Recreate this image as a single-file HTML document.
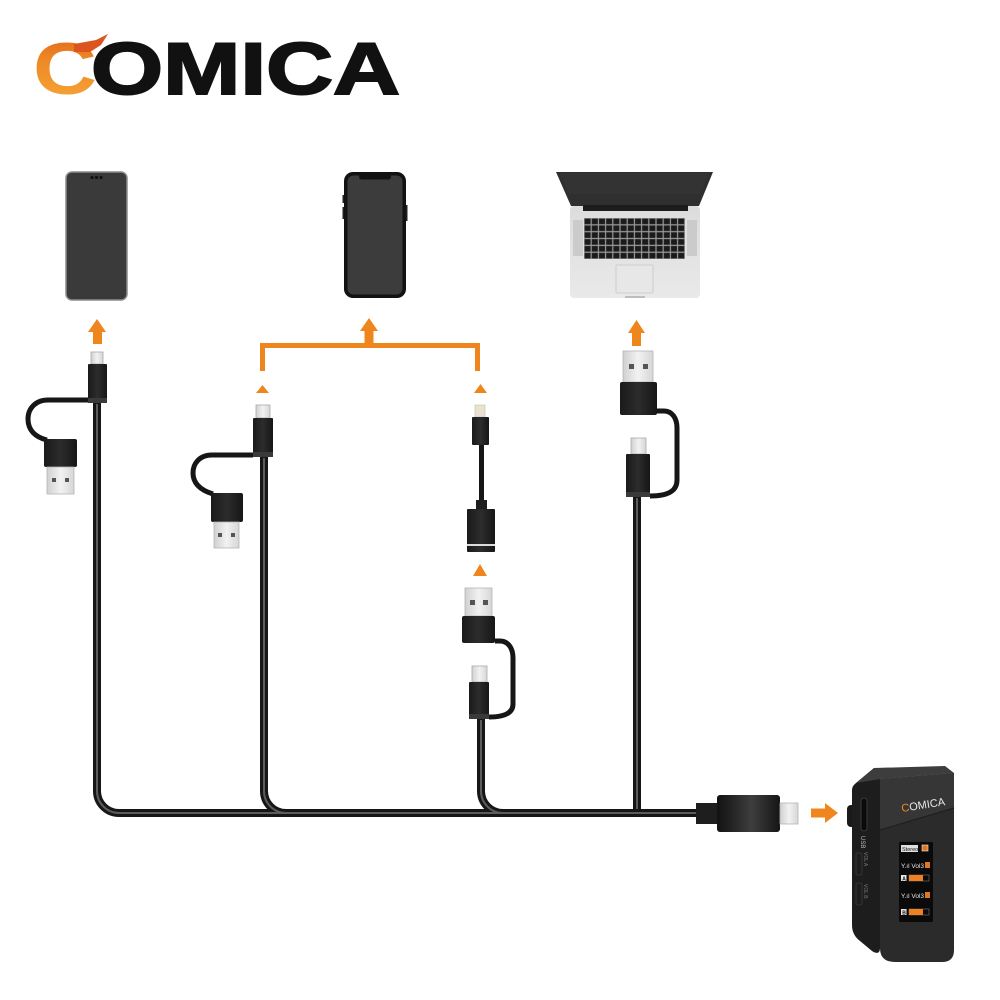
<!DOCTYPE html>
<html>
<head>
<meta charset="utf-8">
<style>
html,body{margin:0;padding:0;background:#fff;}
svg{display:block;}
</style>
</head>
<body>
<svg width="1000" height="1000" viewBox="0 0 1000 1000" xmlns="http://www.w3.org/2000/svg">
<defs>
  <linearGradient id="og" x1="0" y1="1" x2="0" y2="0">
    <stop offset="0" stop-color="#f6a93a"/>
    <stop offset="0.6" stop-color="#ee8a25"/>
    <stop offset="1" stop-color="#e0621c"/>
  </linearGradient>
  <linearGradient id="plugG" x1="0" y1="0" x2="1" y2="0">
    <stop offset="0" stop-color="#111"/>
    <stop offset="0.55" stop-color="#3e3e3e"/>
    <stop offset="1" stop-color="#151515"/>
  </linearGradient>
  <linearGradient id="housG" x1="0" y1="0" x2="1" y2="0">
    <stop offset="0" stop-color="#1a1a1a"/>
    <stop offset="0.5" stop-color="#2c2c2c"/>
    <stop offset="1" stop-color="#161616"/>
  </linearGradient>
  <linearGradient id="metalG" x1="0" y1="0" x2="1" y2="0">
    <stop offset="0" stop-color="#d0d0d0"/>
    <stop offset="0.5" stop-color="#f2f2f2"/>
    <stop offset="1" stop-color="#d6d6d6"/>
  </linearGradient>
  <linearGradient id="baseG" x1="0" y1="0" x2="0" y2="1">
    <stop offset="0" stop-color="#dcdcdc"/>
    <stop offset="1" stop-color="#e9e9e9"/>
  </linearGradient>
  <pattern id="keys" x="584" y="218" width="7.2" height="6.85" patternUnits="userSpaceOnUse">
    <rect width="7.2" height="6.85" fill="#9a9a9a"/>
    <rect x="0.6" y="0.6" width="6" height="5.6" fill="#1b1b1b"/>
  </pattern>
</defs>

<!-- LOGO -->
<text x="33" y="94" font-family="Liberation Sans, sans-serif" font-weight="bold" font-size="73" textLength="64" lengthAdjust="spacingAndGlyphs" fill="url(#og)">C</text>
<polygon points="74,44 96,40 108,34 101,45 90,52 74,52" fill="#dc5420"/>
<text x="91" y="94" font-family="Liberation Sans, sans-serif" font-weight="bold" font-size="73" textLength="309" lengthAdjust="spacingAndGlyphs" fill="#111" stroke="#111" stroke-width="2">OMICA</text>

<!-- PHONE 1 (Android) -->
<rect x="66" y="172" width="61" height="128" rx="6" fill="#3a3a3a" stroke="#8c8c8c" stroke-width="1.5"/>
<circle cx="92" cy="177.5" r="1.6" fill="#111"/>
<circle cx="96.5" cy="177.5" r="1.6" fill="#111"/>
<circle cx="101" cy="177.5" r="1.6" fill="#111"/>

<!-- PHONE 2 (iPhone) -->
<rect x="344" y="172" width="62" height="126" rx="9" fill="#121212"/>
<rect x="347.5" y="175.5" width="55" height="119" rx="6" fill="#3c3c3c"/>
<rect x="359" y="174" width="32" height="5.5" rx="2.5" fill="#121212"/>
<rect x="342.5" y="195" width="1.5" height="8" fill="#222"/>
<rect x="342.5" y="207" width="1.5" height="12" fill="#222"/>
<rect x="406" y="205" width="1.5" height="16" fill="#222"/>

<!-- LAPTOP -->
<polygon points="556,172 713,172 699,206 571,206" fill="#2f2f2f"/>
<polygon points="560,173 709,173 700,194 569,194" fill="#333"/>
<rect x="570" y="206" width="130" height="92" rx="4" fill="url(#baseG)"/>
<rect x="583" y="205" width="105" height="6" fill="#1c1c1c"/>
<rect x="573" y="220" width="10" height="36" fill="#cbcbcb"/>
<rect x="687" y="220" width="10" height="36" fill="#cbcbcb"/>
<rect x="584" y="218" width="101" height="41" fill="url(#keys)"/>
<rect x="616" y="265" width="37" height="28" rx="1" fill="#e7e7e7" stroke="#c6c6c6" stroke-width="0.8"/>
<rect x="625" y="296" width="20" height="2" fill="#bdbdbd"/>

<!-- ORANGE ARROWS / BRACKET -->
<g fill="#ef861d">
  <polygon points="88,332 97,319 106,332"/>
  <rect x="93" y="331" width="9" height="13"/>
  <polygon points="360,331 369,318 378,331"/>
  <rect x="364.5" y="330" width="9" height="15"/>
  <polygon points="628,333 636.5,320 645,333"/>
  <rect x="632" y="332" width="9" height="14"/>
  <polygon points="256,393 262.5,385 269,393"/>
  <polygon points="474,393 480.5,384 487,393"/>
  <polygon points="473,576 480,564 487,576"/>
  <rect x="811" y="808.5" width="15" height="9"/>
  <polygon points="825,803 838,813 825,823"/>
</g>
<path d="M262.5,371 V345.5 H477.5 V371" fill="none" stroke="#ef861d" stroke-width="5"/>

<!-- MAIN CABLES -->
<g fill="none" stroke-linecap="butt">
  <g stroke="#161616" stroke-width="8">
    <path d="M97,400 V791 A22,22 0 0 0 119,813 H700"/>
    <path d="M264,455 V791 A22,22 0 0 0 286,813"/>
    <path d="M481,717 V791 A22,22 0 0 0 503,813"/>
    <path d="M637,495 V813"/>
  </g>
  <g stroke="#5c5c5c" stroke-width="2">
    <path d="M97,404 V791 A22,22 0 0 0 119,813 H698"/>
    <path d="M264,458 V791 A22,22 0 0 0 286,813"/>
    <path d="M481,720 V791 A22,22 0 0 0 503,813"/>
    <path d="M637,498 V809"/>
  </g>
  <!-- branch cables -->
  <g stroke="#161616" stroke-width="5">
    <path d="M88,400 H48 C36,400 28,408 28,419 C28,430 35,437 47,440"/>
    <path d="M253,455 H212 C200,455 193,463 193,473 C193,483 200,490 213,494"/>
    <path d="M657,411 H664 C672,411 677,418 677,428 V480 C677,490 670,496 650,496"/>
    <path d="M495,641 H500 C508,641 513,648 513,658 V704 C513,712 506,717 489,717"/>
    <path d="M481.5,444 V504"/>
  </g>
</g>

<!-- PLUG GROUP 1 (left) -->
<rect x="91" y="352" width="12" height="12" fill="url(#metalG)" stroke="#aaa" stroke-width="0.8"/>
<rect x="88" y="364" width="19" height="39" rx="1" fill="url(#housG)"/>
<rect x="88" y="398" width="19" height="5" fill="#3a3a3a"/>
<rect x="44" y="439" width="33" height="28" rx="2" fill="url(#housG)"/>
<rect x="47" y="467" width="27" height="27" fill="url(#metalG)" stroke="#b5b5b5" stroke-width="0.8"/>
<rect x="52" y="478" width="4" height="4" fill="#555"/>
<rect x="65" y="478" width="4" height="4" fill="#555"/>

<!-- PLUG GROUP 2 -->
<rect x="256" y="405" width="14" height="13" fill="url(#metalG)" stroke="#aaa" stroke-width="0.8"/>
<rect x="253" y="418" width="20" height="39" rx="1" fill="url(#housG)"/>
<rect x="253" y="452" width="20" height="5" fill="#3a3a3a"/>
<rect x="211" y="493" width="32" height="29" rx="2" fill="url(#housG)"/>
<rect x="214" y="522" width="25" height="26" fill="url(#metalG)" stroke="#b5b5b5" stroke-width="0.8"/>
<rect x="218" y="533" width="4" height="4" fill="#555"/>
<rect x="231" y="533" width="4" height="4" fill="#555"/>

<!-- LIGHTNING + FEMALE USB-A -->
<rect x="475" y="405" width="10" height="12" fill="#e9e2d2" stroke="#c8bda5" stroke-width="0.6"/>
<rect x="472" y="417" width="17" height="28" rx="1" fill="url(#housG)"/>
<rect x="476" y="500" width="11" height="10" fill="#1e1e1e"/>
<rect x="467" y="509" width="28" height="43" rx="1" fill="url(#housG)"/>
<rect x="467" y="544" width="28" height="2" fill="#dcdcdc"/>

<!-- LOWER ADAPTER (USB-A / USB-C) -->
<rect x="465" y="588" width="27" height="28" fill="url(#metalG)" stroke="#b5b5b5" stroke-width="0.8"/>
<rect x="470" y="600" width="5" height="5" fill="#555"/>
<rect x="483" y="600" width="5" height="5" fill="#555"/>
<rect x="462" y="616" width="33" height="27" rx="2" fill="url(#housG)"/>
<rect x="472" y="666" width="15" height="16" fill="url(#metalG)" stroke="#aaa" stroke-width="0.8"/>
<rect x="469" y="682" width="20" height="37" rx="1" fill="url(#housG)"/>
<rect x="469" y="714" width="20" height="5" fill="#3a3a3a"/>

<!-- RIGHT GROUP -->
<rect x="623" y="351" width="30" height="31" fill="url(#metalG)" stroke="#b5b5b5" stroke-width="0.8"/>
<rect x="629" y="364" width="5" height="5" fill="#555"/>
<rect x="643" y="364" width="5" height="5" fill="#555"/>
<rect x="620" y="382" width="37" height="33" rx="2" fill="url(#housG)"/>
<rect x="631" y="438" width="15" height="16" fill="url(#metalG)" stroke="#aaa" stroke-width="0.8"/>
<rect x="626" y="454" width="24" height="43" rx="1" fill="url(#housG)"/>
<rect x="626" y="492" width="24" height="5" fill="#3a3a3a"/>

<!-- MAIN USB-C PLUG -->
<rect x="696" y="803" width="22" height="21" fill="#1e1e1e"/>
<rect x="717" y="795" width="63" height="37" rx="3" fill="url(#plugG)"/>
<rect x="780" y="803" width="18" height="21" fill="url(#metalG)" stroke="#b5b5b5" stroke-width="0.8"/>

<!-- RECEIVER -->
<rect x="847" y="805" width="11" height="22" rx="4" fill="#1a1a1a"/>
<path d="M856,783 L874,768 L880,779 V948 Q880,956 872,951 L860,941 Q852,935 852,925 V790 Q852,786 856,783 Z" fill="#1d1d1d"/>
<polygon points="856,783 874,768 945,766 954,773 880,779" fill="#3d3d3d"/>
<path d="M880,779 L954,773 V950 Q954,962 942,962 H895 Q880,962 880,948 Z" fill="#2b2b2b"/>
<polygon points="880,779 954,773 954,808 880,830" fill="#363636"/>
<line x1="880" y1="830" x2="954" y2="808" stroke="#1f1f1f" stroke-width="1.2"/>
<rect x="861" y="798" width="6" height="33" rx="3" fill="#0b0b0b" stroke="#444" stroke-width="0.8"/>
<text x="0" y="0" transform="translate(861,836) rotate(90)" font-family="Liberation Sans, sans-serif" font-size="6" fill="#bbb">USB</text>
<rect x="856" y="853" width="6" height="22" rx="2" fill="none" stroke="#3c3c3c" stroke-width="0.8"/>
<rect x="856" y="883" width="6" height="22" rx="2" fill="none" stroke="#3c3c3c" stroke-width="0.8"/>
<text x="0" y="0" transform="translate(864,852) rotate(90)" font-family="Liberation Sans, sans-serif" font-size="5" fill="#777">VOL A</text>
<text x="0" y="0" transform="translate(864,884) rotate(90)" font-family="Liberation Sans, sans-serif" font-size="5" fill="#777">VOL B</text>
<g transform="translate(902,812) rotate(-9)">
  <text x="0" y="0" font-family="Liberation Sans, sans-serif" font-size="11" textLength="44" lengthAdjust="spacingAndGlyphs" fill="#e8e8e8"><tspan fill="#f08a1f">C</tspan>OMICA</text>
</g>
<!-- screen -->
<rect x="899" y="842" width="34" height="80" rx="1" fill="#0a0a0a"/>
<rect x="901" y="845" width="17" height="7" fill="#e0e0e0"/>
<text x="902" y="851" font-family="Liberation Sans, sans-serif" font-size="5.5" fill="#111">Stereo</text>
<rect x="922" y="845" width="6" height="6" fill="#e2761e" stroke="#eee" stroke-width="0.6"/>
<text x="901" y="868" font-family="Liberation Sans, sans-serif" font-size="6.5" fill="#e6e6e6">Y.ıl Vol3</text>
<rect x="925" y="862" width="5" height="6" fill="#e2761e"/>
<rect x="901" y="875" width="5.5" height="6" fill="#e6e6e6"/>
<text x="902.2" y="880.3" font-family="Liberation Sans, sans-serif" font-size="5" font-weight="bold" fill="#111">A</text>
<rect x="909" y="875" width="20" height="6" fill="none" stroke="#777" stroke-width="0.6"/>
<rect x="909" y="875" width="14" height="6" fill="#ee7f22"/>
<text x="901" y="898" font-family="Liberation Sans, sans-serif" font-size="6.5" fill="#e6e6e6">Y.ıl Vol3</text>
<rect x="925" y="892" width="5" height="6" fill="#e2761e"/>
<rect x="901" y="909" width="5.5" height="6" fill="#e6e6e6"/>
<text x="902.2" y="914.3" font-family="Liberation Sans, sans-serif" font-size="5" font-weight="bold" fill="#111">B</text>
<rect x="909" y="909" width="20" height="6" fill="none" stroke="#777" stroke-width="0.6"/>
<rect x="909" y="909" width="14" height="6" fill="#ee7f22"/>
</svg>
</body>
</html>
